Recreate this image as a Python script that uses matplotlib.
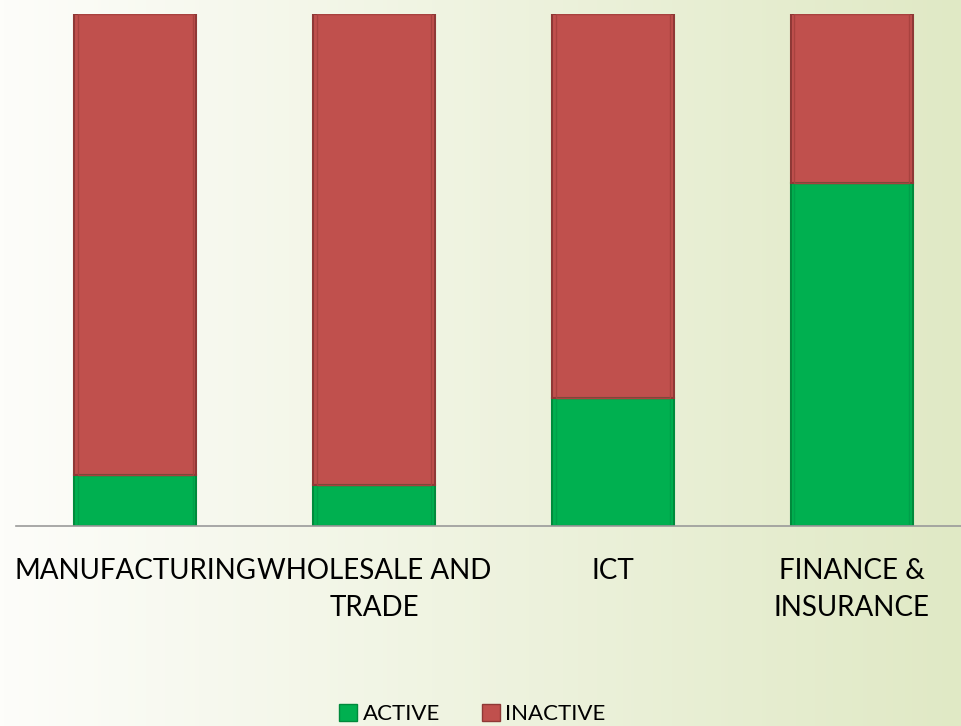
import matplotlib
matplotlib.use("Agg")
import matplotlib.pyplot as plt
import numpy as np
from matplotlib.patches import Patch

categories = ["MANUFACTURING", "WHOLESALE AND\nTRADE", "ICT", "FINANCE &\nINSURANCE"]
active = [10, 8, 25, 67]
inactive = [90, 92, 75, 33]
series_names = ["ACTIVE", "INACTIVE"]

green = "#00B050"
red = "#C0504D"

W, H = 961, 726
fig = plt.figure(figsize=(W / 100, H / 100), dpi=100)

# background gradient
bg = fig.add_axes([0, 0, 1, 1], zorder=-10)
grad = np.linspace(0, 1, 256)
c0 = np.array([253, 253, 250]) / 255
c1 = np.array([224, 233, 197]) / 255
img = c0[None, :] * (1 - grad[:, None]) + c1[None, :] * grad[:, None]
bg.imshow(img[None, :, :], aspect="auto", extent=[0, 1, 0, 1])
bg.axis("off")

left = 16 / W
right = 971 / W
bottom = (H - 526) / H
top = (H - 14) / H
ax = fig.add_axes([left, bottom, right - left, top - bottom])
ax.patch.set_alpha(0)

x = np.arange(len(categories))
bw = 0.51
ax.bar(x, active, width=bw, color=green, edgecolor="#008a3c", linewidth=1.5)
ax.bar(x, inactive, bottom=active, width=bw, color=red, edgecolor="#8f3836", linewidth=1.5)
# subtle bevel highlights
ax.bar(x, active, width=bw * 0.94, color="none", edgecolor="#00a04a", linewidth=1.0)
ax.bar(x, inactive, bottom=active, width=bw * 0.94, color="none", edgecolor="#a8423f", linewidth=1.0)

ax.set_xlim(-0.5, 3.5)
ax.set_ylim(0, 100)
for s in ["top", "right", "left"]:
    ax.spines[s].set_visible(False)
ax.spines["bottom"].set_color("#9a9a9a")
ax.spines["bottom"].set_linewidth(1.2)
ax.set_yticks([])
ax.set_xticks(x)
ax.set_xticklabels(categories, fontsize=20, family="Lato", linespacing=1.55)
ax.tick_params(axis="x", length=0, pad=23)

handles = [Patch(facecolor=green, edgecolor="#008a3c"), Patch(facecolor=red, edgecolor="#8f3836")]
fig.legend(handles, series_names, loc="center", bbox_to_anchor=(0.5 - 8 / W, (H - 714) / H),
           ncol=2, frameon=False, prop={"family": "Lato", "size": 16},
           handlelength=0.8, handleheight=0.8, handletextpad=0.25, columnspacing=1.9)

fig.savefig("out.png", dpi=100)
